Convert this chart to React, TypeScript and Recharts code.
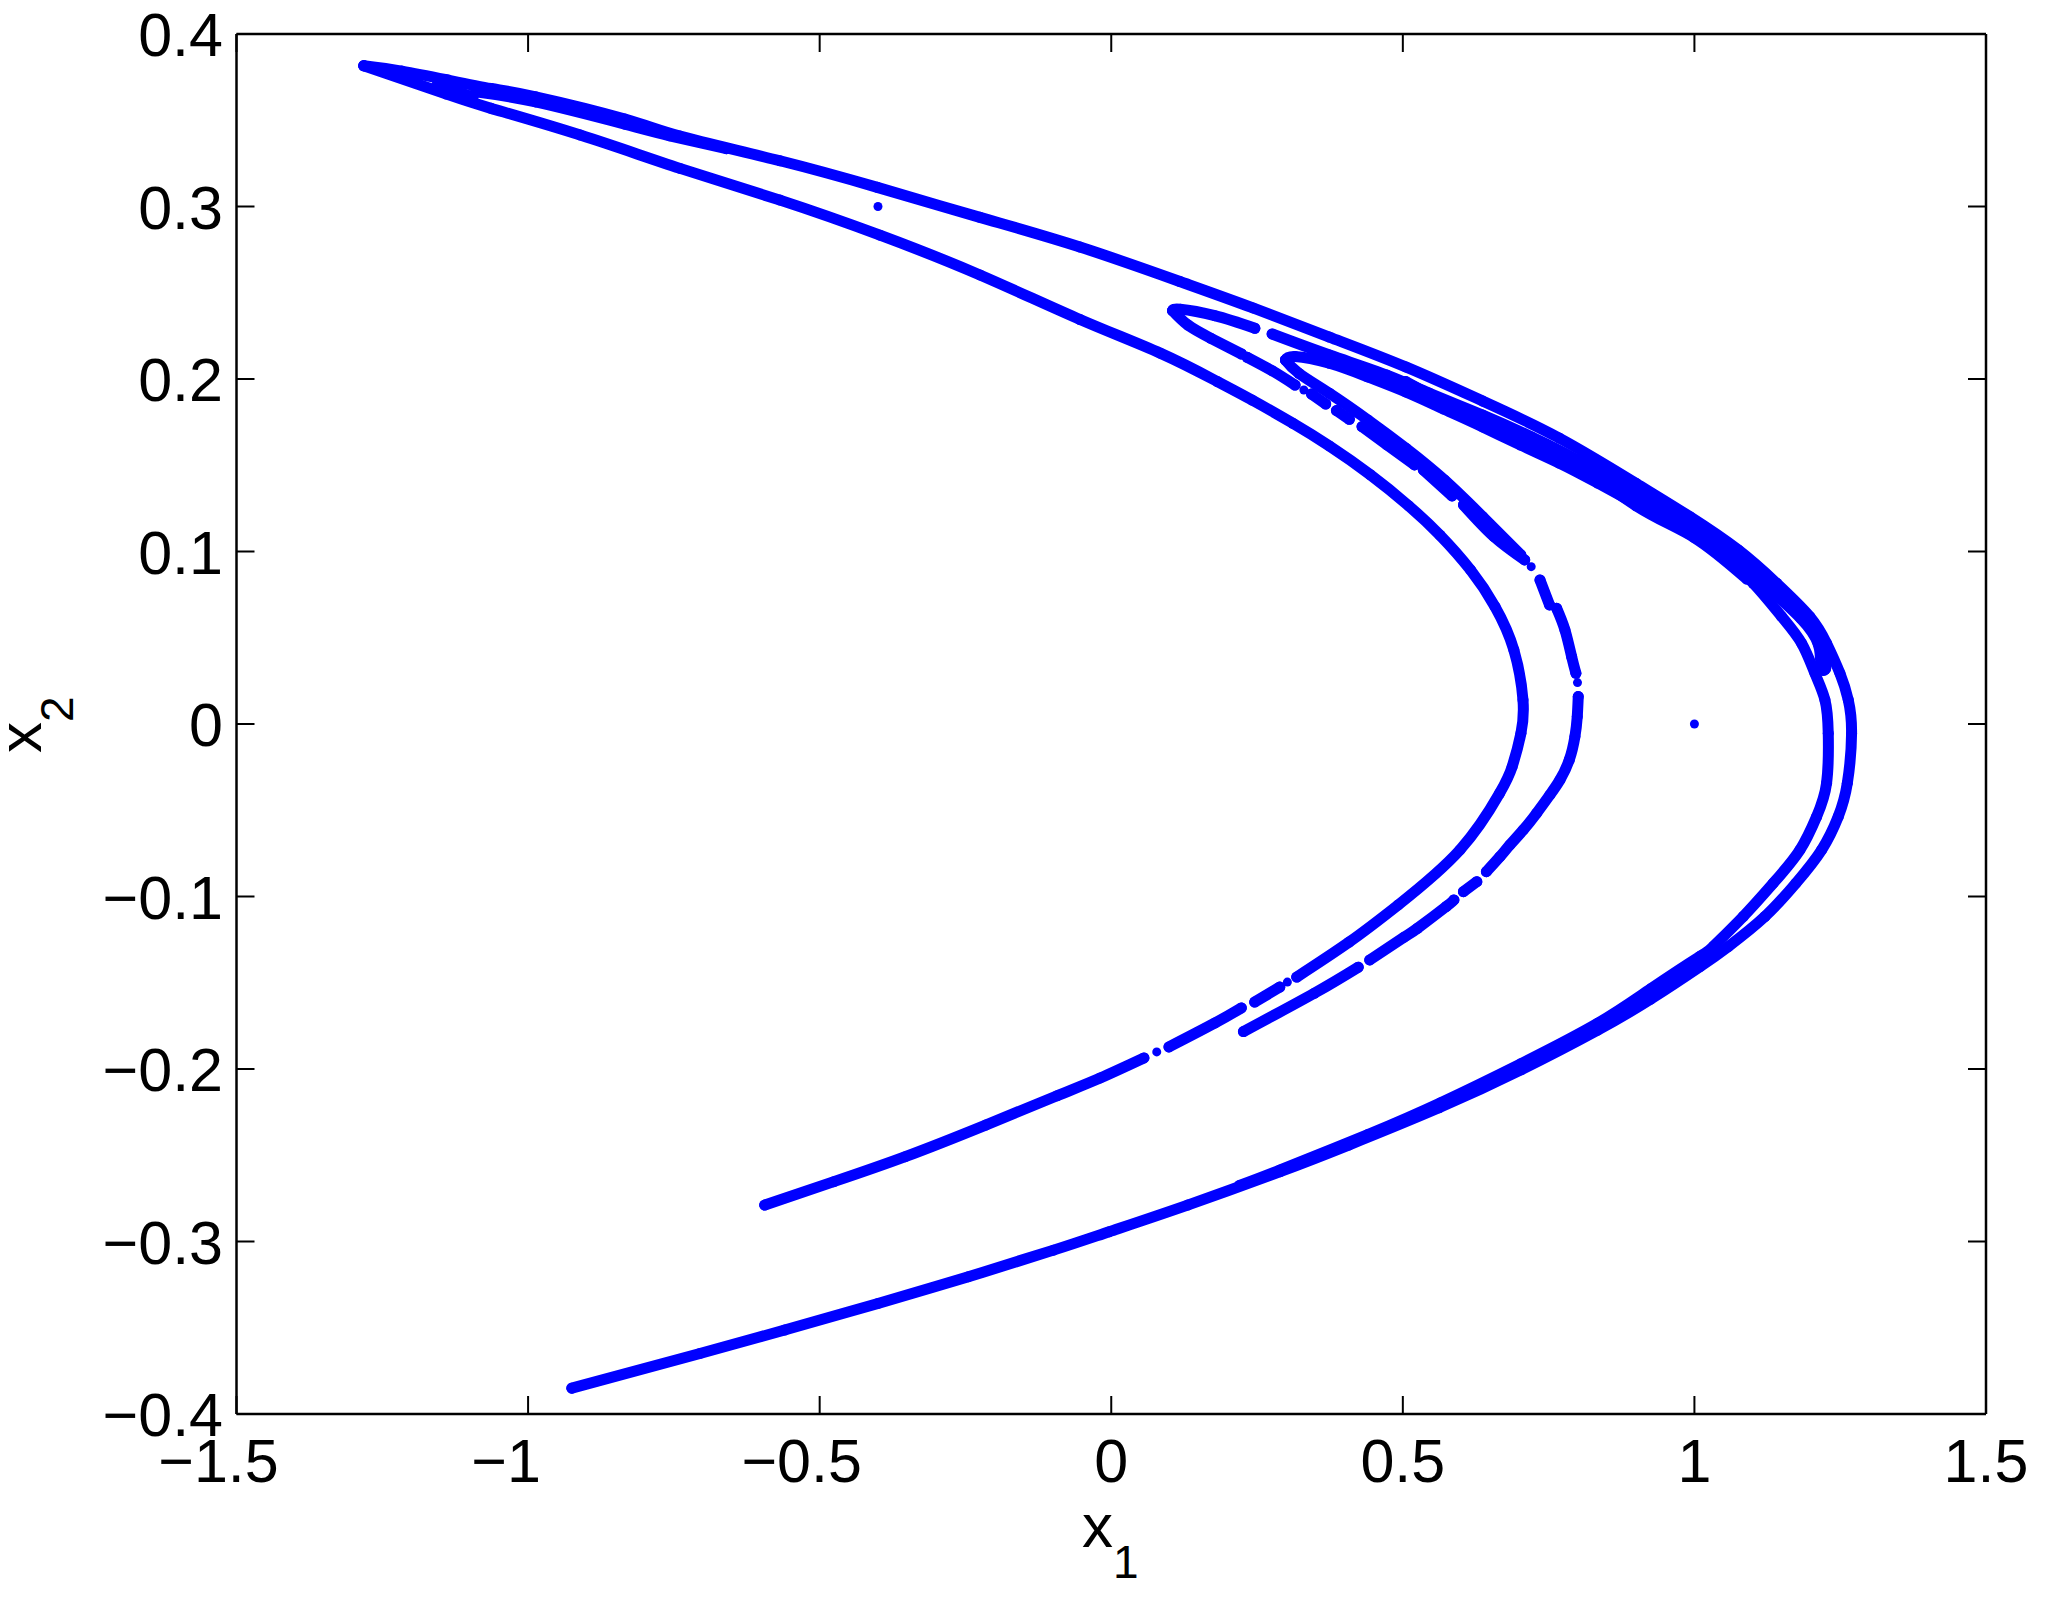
import React from "react";
import { ScatterChart, Scatter, XAxis, YAxis } from "recharts";

type P = [number, number];

const xTickValues = [-1.5, -1, -0.5, 0, 0.5, 1, 1.5];
const yTickValues = [-0.4, -0.3, -0.2, -0.1, 0, 0.1, 0.2, 0.3, 0.4];

const outerTop: P[] = [[-1.2817,.3816],[-1.2166,.3785],[-1.14,.3735],[-1.0635,.3684],[-.987,.3636],[-.834,.3507],[-.7395,.3408],[-.568,.3265],[-.4011,.3111],[-.2251,.2937],[-.0536,.2765],[.1178,.2565],[.243,.2412],[.374,.2243],[.505,.207],[.637,.1872],[.768,.1658],[.9,.1395],[.9923,.1202],[1.0752,.1009],[1.1409,.0816],[1.198,.0622],[1.2266,.0468],[1.2495,.0294],[1.2638,.014],[1.2695,-.0054],[1.2622,-.0343],[1.2466,-.0537],[1.2181,-.073],[1.174,-.0923],[1.1209,-.1116],[1.058,-.129],[1.0095,-.1407],[.925,-.1595],[.834,-.1775],[.7026,-.2005],[.562,-.2225],[.4071,-.2441],[.2898,-.2595],[.131,-.2789],[-.0034,-.2943],[-.099,-.305],[-.245,-.3204],[-.4,-.3359],[-.56,-.3513],[-.7053,-.3649],[-.925,-.385]];
const outerTopInner: P[] = [[-1.09,.3665],[-.987,.3606],[-.834,.3477],[-.757,.341],[-.66,.3335]];
const tipBridge: P[] = [[-1.156,.3704],[-1.0945,.3635]];

const bandInnerRight: P[] = [[.9437,.1195],[1.0352,.1009],[1.1009,.0816],[1.1495,.0623],[1.1838,.0468],[1.2066,.0294],[1.2238,.014],[1.2295,-.0054],[1.2266,-.0343],[1.2095,-.0537],[1.1809,-.073],[1.1352,-.0923],[1.0837,-.1116],[1.0323,-.129],[1.0095,-.1347],[.925,-.1535],[.834,-.1735],[.702,-.197],[.565,-.2195],[.44,-.238],[.2898,-.2585],[.22,-.2675]];
const foldTwoUpper: P[] = [[.2988,.211],[.3152,.213],[.3743,.2091],[.44,.2012],[.505,.1925],[.57,.1826],[.637,.1722],[.702,.1617],[.768,.1513],[.834,.1397],[.9437,.1195]];
const foldTwoLower: P[] = [[.2988,.211],[.3218,.2033],[.3743,.1917],[.44,.1763],[.5055,.1598],[.5712,.1415],[.6368,.1202],[.7024,.098]];

const foldOneUpperA: P[] = [[.1053,.2396],[.1184,.2404],[.1775,.2367],[.2463,.2294]];
const foldOneUpperB: P[] = [[.2759,.2261],[.3743,.2139],[.4727,.2023],[.545,.1919],[.637,.1791],[.721,.1664],[.8,.153],[.9,.1339]];
const thickEnd: P[] = [[.9,.1339],[.968,.1202],[1.0552,.1009],[1.1238,.0816],[1.1855,.0622],[1.2163,.0468],[1.2209,.0325]];
const bandFillA: P[] = [[.505,.1985],[.637,.1757],[.768,.1565],[.9,.1265],[1,.108],[1.09,.084]];

const leftA: P[] = [[-.5943,-.2789],[-.4757,-.2653],[-.3532,-.2508],[-.2154,-.2325],[-.0929,-.2155],[-.019,-.2052],[.056,-.1936]];
const leftB: P[] = [[.099,-.1872],[.178,-.1733],[.223,-.1646]];
const leftC: P[] = [[.246,-.1612],[.289,-.1525]];
const leftD: P[] = [[.318,-.1467],[.408,-.1264],[.492,-.1049],[.598,-.073],[.6659,-.0402],[.6875,-.0247],[.7025,-.0054],[.706,.014],[.6904,.0429],[.6581,.068],[.616,.0893],[.5635,.1095],[.5101,.1265],[.4442,.1445],[.3738,.1612],[.3114,.1743],[.2414,.1878],[.1821,.1985],[.084,.215],[-.0536,.2345],[-.2251,.2603],[-.3966,.2834],[-.568,.3037],[-.7395,.3221],[-.9104,.3414],[-1.0635,.3569],[-1.14,.3652],[-1.2817,.3816]];

const midA: P[] = [[.1053,.2396],[.1315,.2313],[.1709,.2236],[.2234,.2145]];
const midB: P[] = [[.2332,.2126],[.2759,.2048],[.3152,.1965]];
const midC: P[] = [[.3434,.1913],[.3677,.1855]];
const midD: P[] = [[.3861,.1817],[.4084,.1766]];
const midE: P[] = [[.43,.1724],[.4727,.1618],[.52,.1502]];
const midF: P[] = [[.5351,.1473],[.5843,.1322]];
const midG: P[] = [[.604,.127],[.6564,.1086],[.709,.0951]];
const midH: P[] = [[.7352,.0835],[.7516,.069]];
const midI: P[] = [[.7637,.0671],[.778,.0545],[.7894,.0391],[.7968,.0294]];
const midJ: P[] = [[.8008,.0159],[.7991,.0043],[.7951,-.0073],[.7854,-.0208],[.7694,-.0324],[.7522,-.0411],[.7294,-.0517],[.7065,-.0614],[.6836,-.0701],[.6665,-.0769],[.6433,-.0856]];
const midK: P[] = [[.6269,-.0914],[.6039,-.0972]];
const midL: P[] = [[.5876,-.102],[.5744,-.1058],[.5252,-.1184],[.5022,-.1236],[.4432,-.1368]];
const midM: P[] = [[.4235,-.141],[.3481,-.1561],[.2267,-.1783]];

const looseDots: P[] = [[1,0],[-.4,.3],[.078,-.1901],[.302,-.1496],[.3303,.1936],[.7201,.0912],[.7995,.024]];

const thin: P[][] = [outerTop, tipBridge, outerTopInner, bandInnerRight, foldTwoUpper, foldTwoLower, foldOneUpperA, foldOneUpperB, bandFillA, leftA, leftB, leftC, leftD, midA, midB, midC, midD, midE, midF, midG, midH, midI, midJ, midK, midL, midM];
const thick: P[][] = [thickEnd];

const BLUE = "#0000ff";
const FONT = "'Liberation Sans', Arial, sans-serif";

const fmt = (v: number) => (v < 0 ? "\u2212" : "") + String(Math.abs(v));
const negShift = (v: number) => (v >= 0 ? 0 : v === -1 ? -22 : -18);

const XTick = (p: any) => (
  <text x={p.payload.coordinate + negShift(p.payload.value)} y={1482} textAnchor="middle" fontFamily={FONT} fontSize={61} fill="#000">
    {fmt(p.payload.value)}
  </text>
);
const YTick = (p: any) => (
  <text x={223} y={p.payload.coordinate + 22} textAnchor="end" fontFamily={FONT} fontSize={61} fill="#000">
    {fmt(p.payload.value)}
  </text>
);
const NoTick = () => <g />;

const XTitle = () => (
  <text x={1082} y={1547} fontFamily={FONT} fontSize={62} fill="#000">
    x<tspan fontSize={46} dy={31}>1</tspan>
  </text>
);
const YTitle = () => (
  <text transform="translate(41,753) rotate(-90)" fontFamily={FONT} fontSize={62} fill="#000">
    x<tspan fontSize={46} dy={32}>2</tspan>
  </text>
);

const toPts = (a: P[]) => a.map(([x, y]) => ({ x, y }));
const dot = (r: number) => (p: any) => <circle cx={p.cx} cy={p.cy} r={r} fill={BLUE} />;

const axisLine = { stroke: "#000", strokeWidth: 2.5 };
const tickLine = { stroke: "#000", strokeWidth: 2 };

export default function App() {
  return (
    <div style={{ position: "absolute", left: 0, top: 0, width: 2051, height: 1610, background: "#fff" }}>
      <ScatterChart width={2051} height={1610} margin={{ left: 235.5, right: 64, top: 33, bottom: 195 }}>
        <XAxis xAxisId="b" type="number" dataKey="x" domain={[-1.5, 1.5]} ticks={xTickValues} orientation="bottom" height={1} tickSize={-18} axisLine={axisLine} tickLine={tickLine} tick={XTick} interval={0} label={<XTitle />} allowDataOverflow />
        <XAxis xAxisId="t" type="number" dataKey="x" domain={[-1.5, 1.5]} ticks={xTickValues} orientation="top" height={1} tickSize={-18} axisLine={axisLine} tickLine={tickLine} tick={NoTick} interval={0} allowDataOverflow />
        <YAxis yAxisId="l" type="number" dataKey="y" domain={[-0.4, 0.4]} ticks={yTickValues} orientation="left" width={1} tickSize={-18} axisLine={axisLine} tickLine={tickLine} tick={YTick} interval={0} label={<YTitle />} allowDataOverflow />
        <YAxis yAxisId="r" type="number" dataKey="y" domain={[-0.4, 0.4]} ticks={yTickValues} orientation="right" width={1} tickSize={-18} axisLine={axisLine} tickLine={tickLine} tick={NoTick} interval={0} allowDataOverflow />
        {thin.map((s, i) => (
          <Scatter key={"t" + i} xAxisId="b" yAxisId="l" data={toPts(s)} fill={BLUE} shape={dot(5.5)} isAnimationActive={false} lineJointType="natural"
            line={{ stroke: BLUE, strokeWidth: 11, strokeLinecap: "round", strokeLinejoin: "round" }} />
        ))}
        {thick.map((s, i) => (
          <Scatter key={"k" + i} xAxisId="b" yAxisId="l" data={toPts(s)} fill={BLUE} shape={dot(8)} isAnimationActive={false} lineJointType="natural"
            line={{ stroke: BLUE, strokeWidth: 16, strokeLinecap: "round", strokeLinejoin: "round" }} />
        ))}
        <Scatter xAxisId="b" yAxisId="l" data={toPts(looseDots)} fill={BLUE} shape={dot(4.5)} isAnimationActive={false} />
      </ScatterChart>
    </div>
  );
}
